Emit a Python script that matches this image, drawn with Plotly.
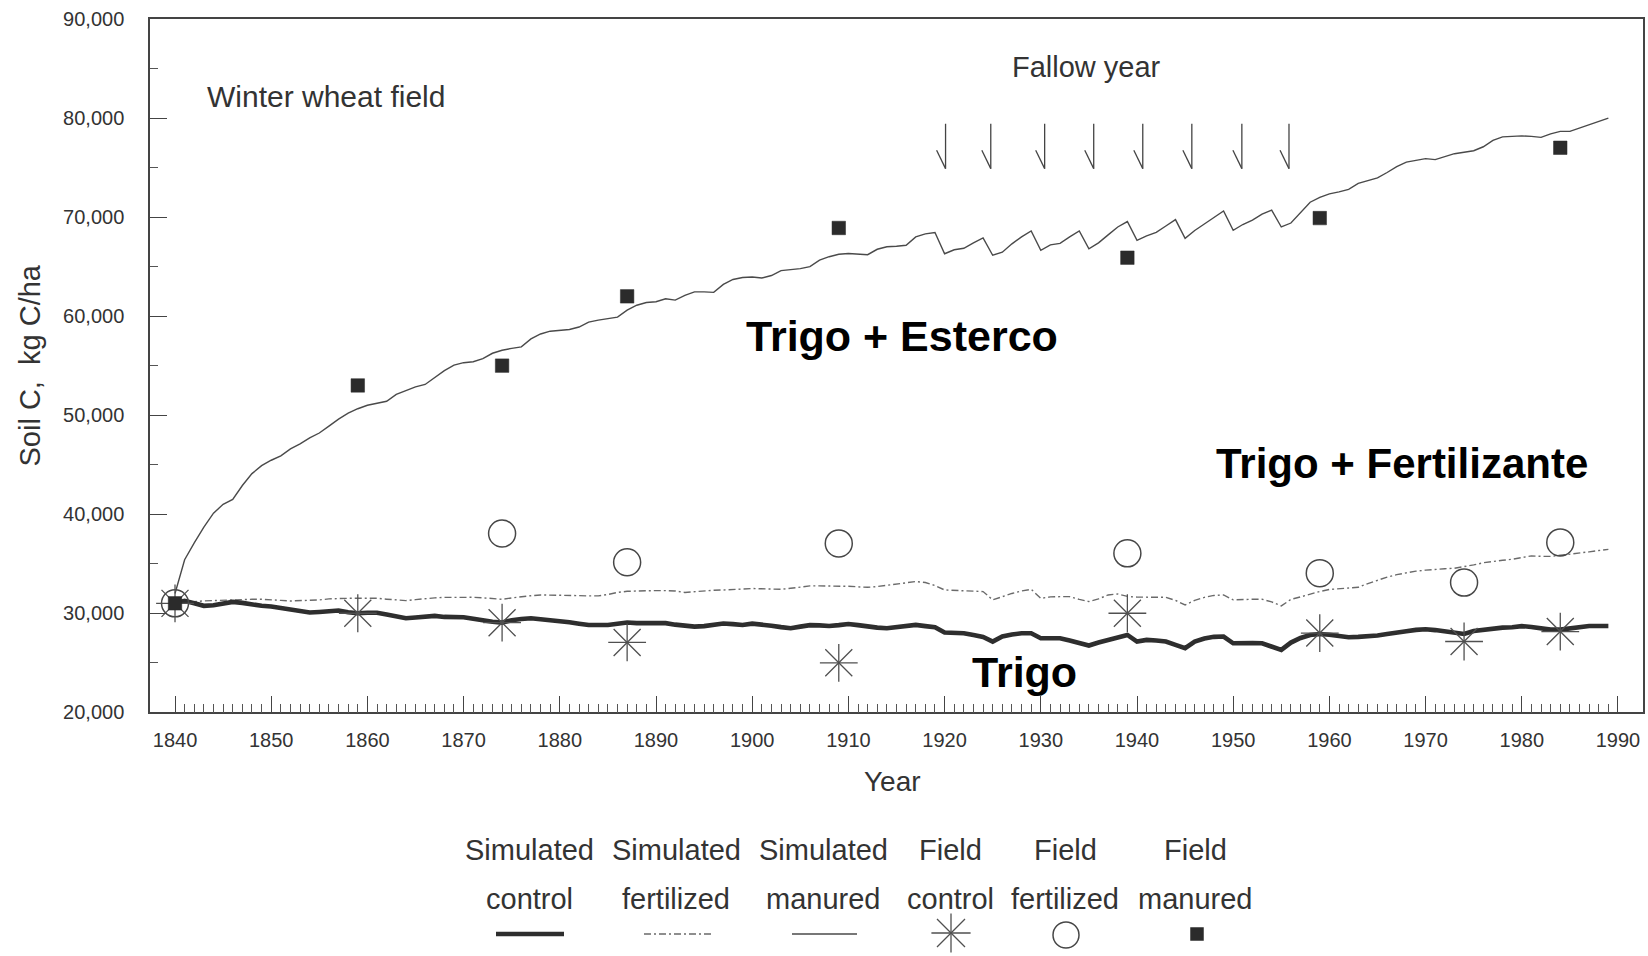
import plotly.graph_objects as go

# ---------------- data ----------------
years = list(range(1840, 1990))

sim_control = [
    31000, 31250, 31000, 30750, 30800, 30950, 31150, 31050, 30850, 30750,
    30680, 30550, 30400, 30200, 30070, 30130, 30200, 30270, 30100, 30000,
    30050, 30050, 29880, 29650, 29500, 29580, 29680, 29730, 29630, 29600,
    29600, 29450, 29280, 29150, 29060, 29300, 29420, 29500, 29400, 29330,
    29220, 29100, 28950, 28820, 28820, 28820, 28950, 29060, 29000, 29000,
    29060, 29000, 28850, 28720, 28650, 28700, 28820, 28960, 28900, 28820,
    28950, 28900, 28740, 28600, 28490, 28650, 28800, 28780, 28720, 28800,
    28920, 28800, 28650, 28550, 28490, 28620, 28730, 28820, 28700, 28590,
    28050, 28000, 27980, 27800, 27600, 27140, 27650, 27850, 27980, 27980,
    27480, 27480, 27480, 27250, 27000, 26740, 27040, 27300, 27600, 27810,
    27140, 27310, 27250, 27140, 26800, 26470, 27140, 27450, 27620, 27650,
    26970, 27040, 27000, 26970, 26600, 26300, 27040, 27500, 27800, 27910,
    27830, 27700, 27580, 27620, 27650, 27760, 27900, 28000, 28180, 28320,
    28380, 28300, 28150, 28000, 27910, 28200, 28350, 28490, 28550, 28590,
    28700, 28620, 28490, 28350, 28350, 28480, 28650, 28720, 28720, 28720,
]

sim_fertilized = [
    31000, 31100, 31180, 31250, 31280, 31330, 31380, 31410, 31410, 31410,
    31380, 31300, 31240, 31260, 31280, 31350, 31450, 31510, 31510, 31510,
    31510, 31510, 31420, 31330, 31280, 31380, 31480, 31550, 31600, 31610,
    31610, 31610, 31560, 31470, 31410, 31550, 31680, 31770, 31850, 31850,
    31850, 31820, 31780, 31750, 31750, 31900, 32100, 32220, 32260, 32290,
    32290, 32290, 32250, 32100, 32180, 32290, 32320, 32350, 32420, 32500,
    32500, 32470, 32430, 32420, 32520, 32650, 32760, 32760, 32760, 32760,
    32720, 32670, 32620, 32700, 32830, 32950, 33080, 33200, 33100, 32800,
    32350, 32320, 32290, 32240, 32190, 31350, 31700, 32000, 32250, 32420,
    31510, 31650, 31680, 31680, 31400, 31180, 31450, 31850, 31950, 31700,
    31630, 31610, 31610, 31610, 31300, 30840, 31300, 31600, 31800, 31850,
    31350, 31400, 31410, 31410, 31150, 30740, 31400, 31650, 31950, 32200,
    32400, 32480, 32560, 32620, 33000, 33350, 33650, 33900, 34100, 34250,
    34350, 34440, 34500, 34540, 34700, 34880, 35100, 35250, 35350, 35450,
    35620, 35790, 35750, 35740, 35850, 35950, 36060, 36200, 36330, 36450,
]

sim_manured = [
    32000, 35400, 37100, 38700, 40100, 41000, 41500, 42900, 44100, 44900,
    45450, 45900, 46600, 47100, 47700, 48200, 48900, 49600, 50200, 50650,
    51000, 51200, 51400, 52100, 52500, 52850, 53100, 53800, 54500, 55050,
    55300, 55400, 55700, 56250, 56550, 56750, 56900, 57700, 58200, 58480,
    58550, 58650, 58900, 59400, 59600, 59750, 59900, 60600, 61100, 61380,
    61450, 61750, 61620, 62100, 62450, 62450, 62400, 63200, 63700, 63900,
    63950, 63850, 64100, 64600, 64700, 64800, 65000, 65650, 66000, 66250,
    66320, 66250, 66200, 66750, 67000, 67050, 67150, 68000, 68300, 68450,
    66300, 66700, 66850, 67400, 67900, 66150, 66450, 67300, 68000, 68600,
    66650, 67200, 67350, 68000, 68600, 66800, 67400, 68200, 69000, 69550,
    67650, 68100, 68450, 69100, 69750, 67850, 68650, 69300, 70000, 70620,
    68670, 69250, 69700, 70300, 70700, 69000, 69400, 70500, 71500, 72000,
    72350, 72550, 72800, 73400, 73700, 73950, 74500, 75100, 75550, 75750,
    75900, 75800, 76100, 76400, 76550, 76700, 77100, 77750, 78100, 78150,
    78200, 78150, 78050, 78400, 78650, 78650, 79000, 79350, 79700, 80000,
]

field_ctrl_years = [1840, 1859, 1874, 1887, 1909, 1939, 1959, 1974, 1984]
field_ctrl = [31000, 30000, 29050, 27050, 25000, 30000, 28000, 27150, 28150]

field_fert_years = [1840, 1874, 1887, 1909, 1939, 1959, 1974, 1984]
field_fert = [31000, 38050, 35150, 37050, 36050, 34050, 33100, 37150]

field_man_years = [1840, 1859, 1874, 1887, 1909, 1939, 1959, 1984]
field_man = [31000, 53000, 55000, 62000, 68900, 65900, 69900, 77000]

# fallow-year arrows (plotted along the year axis)
fallow_marks = [1920.1, 1924.8, 1930.4, 1935.5, 1940.6, 1945.7, 1950.9, 1955.8]

x_ticks = list(range(1840, 2000, 10))
x_minor = [y for y in range(1841, 1990) if y % 10]
y_ticks = list(range(20000, 100000, 10000))
y_minor = list(range(25000, 90000, 10000))

legend_labels = [
    ("Simulated", "control"),
    ("Simulated", "fertilized"),
    ("Simulated", "manured"),
    ("Field", "control"),
    ("Field", "fertilized"),
    ("Field", "manured"),
]

# ---------------- layout geometry (pixels) ----------------
W, H = 1648, 956
PX_L, PX_R, PX_T, PX_B = 150.0, 1643.0, 19.0, 712.3
FONT = "Liberation Sans, Arial, Helvetica, sans-serif"
INK = "#333333"

legend_cx = [529, 676, 823, 950, 1065, 1195]
legend_row1, legend_row2, legend_sym = 850, 899, 934

C_CTRL = "#2e2e2e"
C_FERT = "#6a6a6a"
C_MAN = "#4a4a4a"
C_OPEN = "#474747"

fig = go.Figure()

# simulated series
fig.add_trace(go.Scatter(x=years, y=sim_fertilized, mode="lines",
                         line=dict(color=C_FERT, width=1.4, dash="7px,3px,2px,3px")))
fig.add_trace(go.Scatter(x=years, y=sim_manured, mode="lines",
                         line=dict(color=C_MAN, width=1.4)))
fig.add_trace(go.Scatter(x=years, y=sim_control, mode="lines",
                         line=dict(color=C_CTRL, width=4.6)))

# fallow-year arrows: a vertical stroke with a single barb at the tip
ARROW_TOP, ARROW_TIP, BARB_TOP, BARB_DX = 79430, 74890, 76740, 0.93
ax, ay = [], []
for m in fallow_marks:
    ax += [m, m, None, m - BARB_DX, m, None]
    ay += [ARROW_TOP, ARROW_TIP, None, BARB_TOP, ARROW_TIP, None]
fig.add_trace(go.Scatter(x=ax, y=ay, mode="lines",
                         line=dict(color="#444444", width=1.3)))

# field observations
fig.add_trace(go.Scatter(x=field_fert_years, y=field_fert, mode="markers",
                         marker=dict(symbol="circle-open", size=27, color=C_OPEN,
                                     line=dict(width=1.5))))
for sym in ("x-thin-open", "cross-thin-open"):
    fig.add_trace(go.Scatter(x=field_ctrl_years, y=field_ctrl, mode="markers",
                             marker=dict(symbol=sym, size=27, color="#505050",
                                         line=dict(width=1.3))))
fig.add_trace(go.Scatter(x=field_man_years, y=field_man, mode="markers",
                         marker=dict(symbol="square", size=13.5, color="#2b2b2b",
                                     line=dict(color="#2b2b2b", width=0.5))))

# ---------------- legend drawn on an overlay axis in pixel units ----------------
lx = legend_cx
fig.add_trace(go.Scatter(x=[lx[0] - 33, lx[0] + 35], y=[legend_sym, legend_sym], mode="lines",
                         line=dict(color=C_CTRL, width=4.6), xaxis="x2", yaxis="y2"))
fig.add_trace(go.Scatter(x=[lx[1] - 32, lx[1] + 35], y=[legend_sym, legend_sym], mode="lines",
                         line=dict(color=C_FERT, width=1.4, dash="7px,3px,2px,3px"),
                         xaxis="x2", yaxis="y2"))
fig.add_trace(go.Scatter(x=[lx[2] - 31, lx[2] + 34], y=[legend_sym, legend_sym], mode="lines",
                         line=dict(color=C_MAN, width=1.4), xaxis="x2", yaxis="y2"))
for sym in ("x-thin-open", "cross-thin-open"):
    fig.add_trace(go.Scatter(x=[lx[3] + 1], y=[legend_sym - 1], mode="markers",
                             marker=dict(symbol=sym, size=28, color="#505050",
                                         line=dict(width=1.3)),
                             xaxis="x2", yaxis="y2"))
fig.add_trace(go.Scatter(x=[lx[4] + 1], y=[legend_sym + 1], mode="markers",
                         marker=dict(symbol="circle-open", size=26, color=C_OPEN,
                                     line=dict(width=1.5)),
                         xaxis="x2", yaxis="y2"))
fig.add_trace(go.Scatter(x=[lx[5] + 2], y=[legend_sym], mode="markers",
                         marker=dict(symbol="square", size=13.5, color="#2b2b2b"),
                         xaxis="x2", yaxis="y2"))

annotations = []
for cx, (l1, l2) in zip(legend_cx, legend_labels):
    for txt, py in ((l1, legend_row1), (l2, legend_row2)):
        annotations.append(dict(x=cx / W, y=1 - py / H, xref="paper", yref="paper",
                                text=txt, showarrow=False, xanchor="center", yanchor="middle",
                                font=dict(family=FONT, size=29, color=INK)))

# in-plot labels
annotations += [
    dict(x=1843.1, y=82210, xref="x", yref="y", text="Winter wheat field", showarrow=False,
         xanchor="left", yanchor="middle", font=dict(family=FONT, size=30, color=INK)),
    dict(x=1934.7, y=85200, xref="x", yref="y", text="Fallow year", showarrow=False,
         xanchor="center", yanchor="middle", font=dict(family=FONT, size=29, color=INK)),
    dict(x=1915.6, y=57970, xref="x", yref="y", text="<b>Trigo + Esterco</b>", showarrow=False,
         xanchor="center", yanchor="middle", font=dict(family=FONT, size=43, color="#000000")),
    dict(x=1967.5, y=45075, xref="x", yref="y", text="<b>Trigo + Fertilizante</b>", showarrow=False,
         xanchor="center", yanchor="middle", font=dict(family=FONT, size=42, color="#000000")),
    dict(x=1928.3, y=24100, xref="x", yref="y", text="<b>Trigo</b>", showarrow=False,
         xanchor="center", yanchor="middle", font=dict(family=FONT, size=43, color="#000000")),
    # axis titles
    dict(x=893 / W, y=1 - 781 / H, xref="paper", yref="paper", text="Year", showarrow=False,
         xanchor="center", yanchor="middle", font=dict(family=FONT, size=28, color=INK)),
    dict(x=29.5 / W, y=1 - 366 / H, xref="paper", yref="paper", text="Soil C,\u00a0 kg C/ha",
         showarrow=False, textangle=-90, xanchor="center", yanchor="middle",
         font=dict(family=FONT, size=29, color=INK)),
]

axis_common = dict(
    showline=True, linecolor="#444444", linewidth=1.5, mirror=True,
    showgrid=False, zeroline=False, automargin=False,
    ticks="inside", ticklen=17, tickwidth=1.2, tickcolor="#444444",
    tickfont=dict(family=FONT, size=20, color=INK),
)

fig.update_layout(
    template="none",
    width=W, height=H,
    margin=dict(l=0, r=0, t=0, b=0, autoexpand=False),
    paper_bgcolor="white", plot_bgcolor="rgba(0,0,0,0)",
    showlegend=False,
    xaxis=dict(domain=[PX_L / W, PX_R / W], range=[1837.4, 1992.6],
               tickmode="array", tickvals=x_ticks, ticklabelstandoff=9,
               minor=dict(tickmode="array", tickvals=x_minor, ticks="inside",
                          ticklen=9, tickwidth=1, tickcolor="#555555"),
               **axis_common),
    yaxis=dict(domain=[1 - PX_B / H, 1 - PX_T / H], range=[20000, 90000],
               tickmode="array", tickvals=y_ticks, tickformat=",", ticklabelstandoff=20,
               minor=dict(tickmode="array", tickvals=y_minor, ticks="inside",
                          ticklen=8, tickwidth=1, tickcolor="#555555"),
               **axis_common),
    xaxis2=dict(domain=[0, 1], range=[0, W], visible=False, anchor="y2", fixedrange=True),
    yaxis2=dict(domain=[0, 0.2], range=[H, H - 0.2 * H], visible=False, anchor="x2",
                fixedrange=True),
    annotations=annotations,
)

fig.write_html("out.html")
